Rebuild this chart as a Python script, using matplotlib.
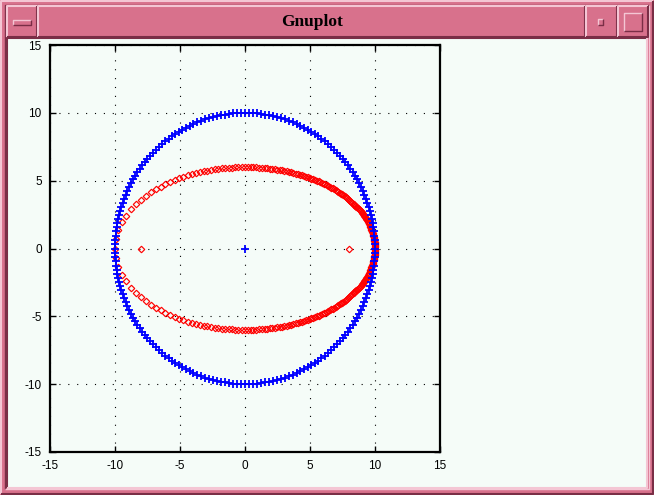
import numpy as np
import matplotlib
matplotlib.use("Agg")
import matplotlib.pyplot as plt
from matplotlib.patches import Rectangle

# --- data ---
# circle (blue +): centre and radius, number of samples
circle_center = (0.0, 0.0)
circle_radius = 10.0
circle_n = 200
# orbit (red diamonds): semi-axes, eccentricity, samples (equal time steps)
orbit_a = 10.0
orbit_b = 6.0
orbit_e = 0.8
orbit_n = 270
# the two foci, also drawn in red
foci_x = [-8.0, 8.0]
foci_y = [0.0, 0.0]

ticks = [-15, -10, -5, 0, 5, 10, 15]

plt.rcParams["axes.unicode_minus"] = False

W, H = 654, 495
fig = plt.figure(figsize=(W / 100, H / 100), dpi=100)

PINK = "#d8718c"
LIGHT = "#f4c6d4"
DARK = "#7a2e46"
BG = "#f5fcf8"

# window frame drawn in pixel coordinates
bg = fig.add_axes([0, 0, 1, 1])
bg.set_xlim(0, W)
bg.set_ylim(H, 0)
bg.axis("off")
bg.add_patch(Rectangle((0, 0), W, H, facecolor=PINK, edgecolor="none"))


def bevel(x0, y0, x1, y1, up=True, lw=1.5):
    hi, lo = (LIGHT, DARK) if up else (DARK, LIGHT)
    bg.plot([x0, x0, x1], [y1, y0, y0], color=hi, lw=lw, solid_capstyle="butt")
    bg.plot([x0, x1, x1], [y1, y1, y0], color=lo, lw=lw, solid_capstyle="butt")


bevel(0.8, 0.8, W - 0.8, H - 0.8)
bevel(5, 5, W - 5, H - 6, up=False, lw=1.0)
# title bar pieces
for x0, x1 in [(7, 37), (38, 585), (586, 617), (618, 648)]:
    bevel(x0, 6, x1, 37)
bg.add_patch(Rectangle((13, 19.5), 18, 5, facecolor=PINK, edgecolor="none"))
bevel(13, 19.5, 31, 24.5, lw=1.0)
bevel(598, 19, 603, 25, lw=1.0)
bevel(624, 13, 642, 31, lw=1.0)
# client area
bg.add_patch(Rectangle((8, 39), 638, 448, facecolor=BG, edgecolor="none"))
bevel(7, 38, 646.5, 487.5, up=False, lw=1.5)
bg.text(312, 22, "Gnuplot", ha="center", va="center", fontsize=12.5,
        fontweight="bold", family="Liberation Serif", color="black")

# plot area
ax = fig.add_axes([50 / W, 1 - 452 / H, 390 / W, 407 / H])
ax.patch.set_alpha(0)

t = np.linspace(0, 2 * np.pi, circle_n, endpoint=False)
cx = circle_center[0] + circle_radius * np.cos(t)
cy = circle_center[1] + circle_radius * np.sin(t)

# equal time steps on a Kepler orbit, attracting focus at x = -8
M = np.linspace(0, 2 * np.pi, orbit_n, endpoint=False)
E = M.copy()
for _ in range(50):
    E = M + orbit_e * np.sin(E)
ox = -orbit_a * np.cos(E)
oy = orbit_b * np.sin(E)

red = dict(ls="none", marker="D", ms=3.3, mfc="none", mec="#ff0000", mew=0.85)
blue = dict(ls="none", marker="+", ms=6, mec="#0000ff", mew=1.3)
ax.plot(ox, oy, **red)
ax.plot(foci_x, foci_y, **red)
ax.plot(cx, cy, **blue)
ax.plot([circle_center[0]], [circle_center[1]], **blue)

ax.set_xlim(-15, 15)
ax.set_ylim(-15, 15)
ax.set_xticks(ticks)
ax.set_yticks(ticks)
ax.set_xticklabels([str(v) for v in ticks])
ax.set_yticklabels([str(v) for v in ticks])
ax.grid(True, color="black", lw=0.8, linestyle=(0, (1, 7)))
ax.tick_params(direction="in", length=4, width=1, top=True, right=True,
               labelsize=8.5, pad=6)
for lab in ax.get_xticklabels() + ax.get_yticklabels():
    lab.set_family("Liberation Sans")
for s in ax.spines.values():
    s.set_linewidth(1.6)

fig.savefig("out.png", dpi=100)
